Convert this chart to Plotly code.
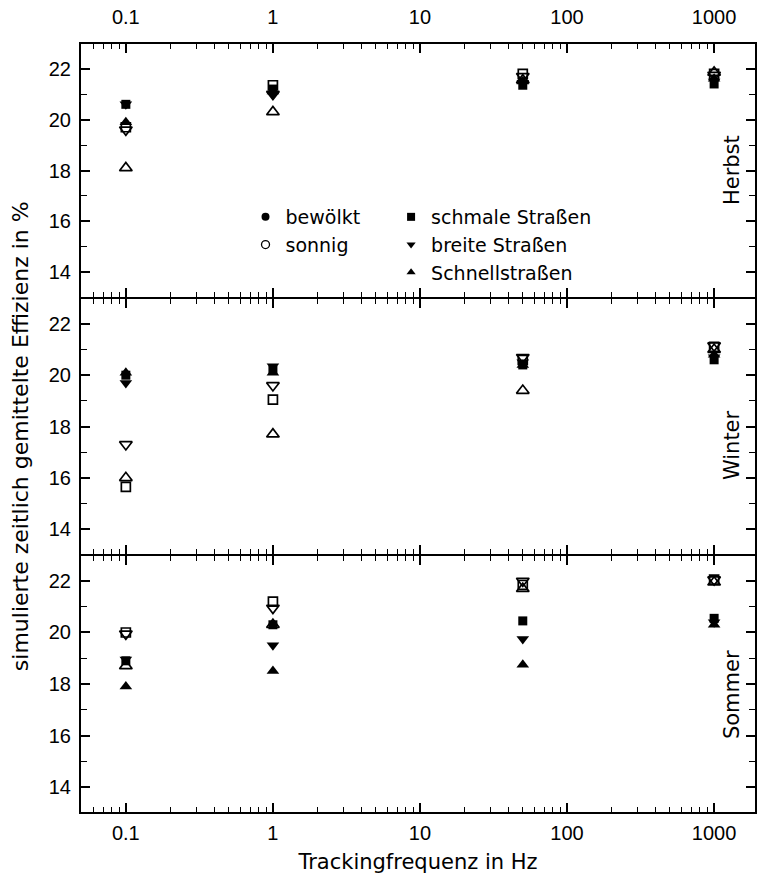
import plotly.graph_objects as go

# Tracking frequencies (Hz)
freq = [0.1, 1, 50, 1000]

# Herbst
herbst_bew_schmal = [20.6, 21.2, 21.35, 21.4]
herbst_bew_breit = [20.6, 21.0, 21.45, 21.5]
herbst_bew_schnell = [19.9, 21.1, 21.5, 21.6]
herbst_son_schmal = [19.7, 21.35, 21.8, 21.8]
herbst_son_breit = [19.6, 21.0, 21.7, 21.75]
herbst_son_schnell = [18.1, 20.3, 21.55, 21.85]

# Winter
winter_bew_schmal = [20.0, 20.2, 20.4, 20.6]
winter_bew_breit = [19.7, 20.35, 20.5, 20.7]
winter_bew_schnell = [20.1, 20.1, 20.4, 20.8]
winter_son_schmal = [15.65, 19.05, 20.6, 21.1]
winter_son_breit = [17.3, 19.6, 20.7, 21.15]
winter_son_schnell = [16.0, 17.7, 19.4, 21.0]

# Sommer
sommer_bew_schmal = [18.9, 20.3, 20.45, 20.55]
sommer_bew_breit = [18.95, 19.5, 19.75, 20.4]
sommer_bew_schnell = [17.9, 18.5, 18.75, 20.3]
sommer_son_schmal = [20.0, 21.2, 21.85, 22.05]
sommer_son_breit = [19.95, 20.95, 22.0, 22.05]
sommer_son_schnell = [18.7, 20.3, 21.7, 21.95]

x_ticks = [0.1, 1, 10, 100, 1000]
x_tick_text = ["0.1", "1", "10", "100", "1000"]
y_ticks = [14, 16, 18, 20, 22]

seasons = [
    ("Herbst", "y3", [herbst_bew_schmal, herbst_bew_breit, herbst_bew_schnell],
     [herbst_son_schmal, herbst_son_breit, herbst_son_schnell]),
    ("Winter", "y2", [winter_bew_schmal, winter_bew_breit, winter_bew_schnell],
     [winter_son_schmal, winter_son_breit, winter_son_schnell]),
    ("Sommer", "y", [sommer_bew_schmal, sommer_bew_breit, sommer_bew_schnell],
     [sommer_son_schmal, sommer_son_breit, sommer_son_schnell]),
]
xref_for = {"y3": "x3", "y2": "x2", "y": "x"}

symbols = ["square", "triangle-down", "triangle-up"]
sizes = [9, 11, 11]
TICK_FONT = "Liberation Sans, Arial, sans-serif"
TEXT_FONT = "DejaVu Sans, Verdana, sans-serif"

fig = go.Figure()

for name, yref, filled, opened in seasons:
    xr = xref_for[yref]
    for vals, sym, sz in zip(opened, symbols, sizes):
        fig.add_trace(go.Scatter(
            x=freq, y=vals, mode="markers", xaxis=xr, yaxis=yref, showlegend=False,
            marker=dict(symbol=sym + "-open", size=sz, color="black",
                        line=dict(color="black", width=1.7)),
        ))
    for vals, sym, sz in zip(filled, symbols, sizes):
        fig.add_trace(go.Scatter(
            x=freq, y=vals, mode="markers", xaxis=xr, yaxis=yref, showlegend=False,
            marker=dict(symbol=sym, size=sz, color="black",
                        line=dict(color="black", width=0)),
        ))

# legend entries
fig.add_trace(go.Scatter(x=[None], y=[None], mode="markers", name="bewölkt",
                         xaxis="x3", yaxis="y3", legend="legend",
                         marker=dict(symbol="circle", size=8, color="black")))
fig.add_trace(go.Scatter(x=[None], y=[None], mode="markers", name="sonnig",
                         xaxis="x3", yaxis="y3", legend="legend",
                         marker=dict(symbol="circle-open", size=8, color="black",
                                     line=dict(width=1.3))))
for nm, sym in zip(["schmale Straßen", "breite Straßen", "Schnellstraßen"], symbols):
    fig.add_trace(go.Scatter(x=[None], y=[None], mode="markers", name=nm,
                             xaxis="x3", yaxis="y3", legend="legend2",
                             marker=dict(symbol=sym, size=8, color="black")))

x_minor = []
for dec in [0.01, 0.1, 1, 10, 100, 1000]:
    for m in range(2, 10):
        v = dec * m
        if 0.05 <= v <= 2000:
            x_minor.append(v)

LW = 2

def xaxis_cfg(side, show_labels, anchor, title=None, standoff=2):
    cfg = dict(
        type="log", range=[-1.305, 3.278], anchor=anchor, side=side,
        showline=True, linecolor="black", linewidth=LW, mirror="allticks",
        ticks="inside", ticklen=9, tickwidth=1.5, tickcolor="black",
        tickvals=x_ticks, ticktext=x_tick_text, showticklabels=show_labels,
        ticklabelstandoff=standoff,
        minor=dict(tickvals=x_minor, ticks="inside", ticklen=5, tickwidth=1.3,
                   tickcolor="black", showgrid=False),
        showgrid=False, zeroline=False,
        tickfont=dict(family=TICK_FONT, size=20, color="black"),
    )
    if title:
        cfg["title"] = dict(text=title, font=dict(family=TEXT_FONT, size=21, color="black"),
                            standoff=11)
    return cfg

def yaxis_cfg(domain, anchor):
    return dict(
        domain=domain, range=[13.03, 22.97], anchor=anchor,
        showline=True, linecolor="black", linewidth=LW, mirror="allticks",
        ticks="inside", ticklen=9, tickwidth=1.5, tickcolor="black",
        tickvals=y_ticks, showgrid=False, zeroline=False, ticklabelstandoff=4,
        minor=dict(dtick=1, ticks="inside", ticklen=6, tickwidth=1.3,
                   tickcolor="black", showgrid=False),
        tickfont=dict(family=TICK_FONT, size=20, color="black"),
    )

TOP, BOTTOM = 44, 812
H = BOTTOM - TOP

def py(px):
    return (BOTTOM - px) / H

fig.update_layout(
    width=757, height=878,
    margin=dict(l=81, r=0, t=TOP, b=878 - BOTTOM),
    paper_bgcolor="white", plot_bgcolor="white",
    font=dict(family=TEXT_FONT, color="black"),
    xaxis=xaxis_cfg("bottom", True, "y", "Trackingfrequenz in Hz", standoff=2),
    xaxis2=xaxis_cfg("bottom", False, "y2"),
    xaxis3=xaxis_cfg("top", True, "y3", standoff=10),
    yaxis=yaxis_cfg([0, py(556)], "x"),
    yaxis2=yaxis_cfg([py(554), py(299)], "x2"),
    yaxis3=yaxis_cfg([py(297), 1], "x3"),
    legend=dict(x=(246 - 81) / 676, y=py(198), xanchor="left", yanchor="top",
                bgcolor="rgba(0,0,0,0)", borderwidth=0, tracegroupgap=0,
                font=dict(family=TEXT_FONT, size=19, color="black")),
    legend2=dict(x=(392 - 81) / 676, y=py(198), xanchor="left", yanchor="top",
                 bgcolor="rgba(0,0,0,0)", borderwidth=0, tracegroupgap=0,
                 font=dict(family=TEXT_FONT, size=19, color="black")),
)

annotations = [
    dict(text="simulierte zeitlich gemittelte Effizienz in %", xref="paper", yref="paper",
         x=(20 - 81) / 676, y=py(436), textangle=-90, showarrow=False,
         xanchor="center", yanchor="middle",
         font=dict(family=TEXT_FONT, size=22, color="black")),
    dict(text="Herbst", xref="paper", yref="paper", x=(734 - 81) / 676, y=py(170),
         textangle=-90, showarrow=False, xanchor="center", yanchor="middle",
         font=dict(family=TEXT_FONT, size=21, color="black")),
    dict(text="Winter", xref="paper", yref="paper", x=(734 - 81) / 676, y=py(445),
         textangle=-90, showarrow=False, xanchor="center", yanchor="middle",
         font=dict(family=TEXT_FONT, size=21, color="black")),
    dict(text="Sommer", xref="paper", yref="paper", x=(734 - 81) / 676, y=py(695),
         textangle=-90, showarrow=False, xanchor="center", yanchor="middle",
         font=dict(family=TEXT_FONT, size=21, color="black")),
]
fig.update_layout(annotations=annotations)

fig.write_html("out.html")
